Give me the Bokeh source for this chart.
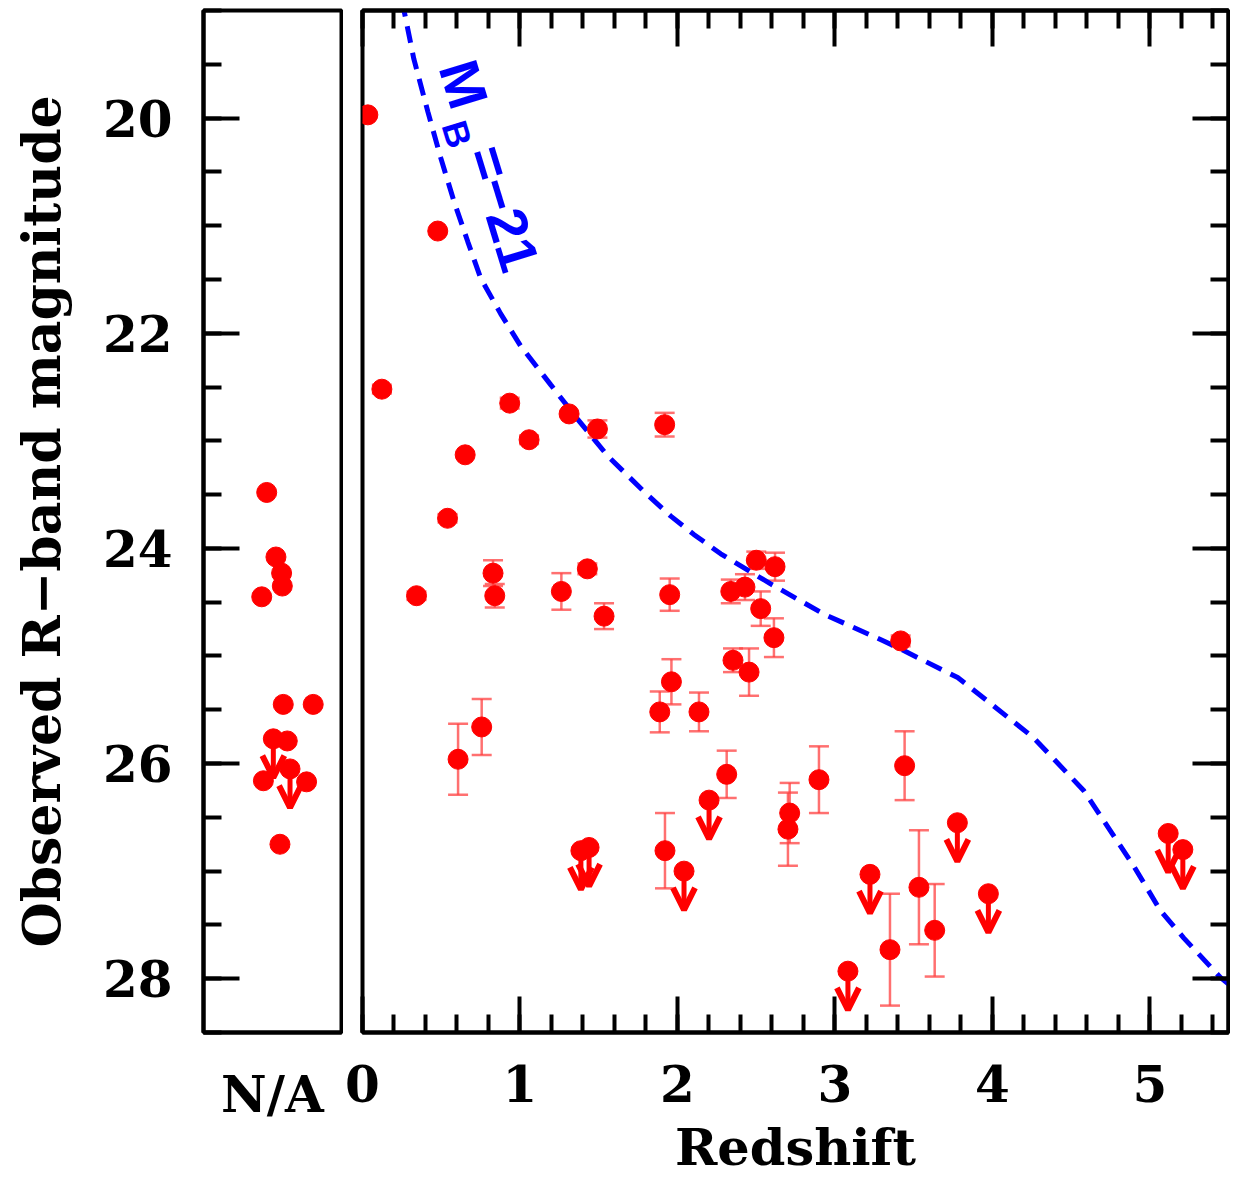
import numpy as np
from bokeh.plotting import figure
from bokeh.layouts import row
from bokeh.models import (Range1d, FixedTicker, LinearAxis, Whisker, TeeHead, Arrow,
                          OpenHead, ColumnDataSource, Label, CustomJSTickFormatter)
from bokeh.embed import file_html
from bokeh.resources import INLINE

# ---------------- data ----------------
# detections with redshift: redshift, R magnitude, 1-sigma error
det_z = [0.034, 0.478, 0.123, 0.935, 1.312, 1.492, 1.919, 1.058, 0.652, 0.540,
         0.343, 0.829, 0.840, 1.263, 1.428, 1.534, 1.951, 2.339, 2.429, 2.501,
         2.620, 2.529, 2.613, 2.353, 2.455, 3.418, 1.962, 1.888, 2.137, 2.313,
         2.713, 2.702, 2.899, 1.921, 3.350, 3.443, 3.534, 3.634, 0.607, 0.757]
det_mag = [19.97, 21.05, 22.52, 22.65, 22.75, 22.89, 22.85, 22.99, 23.13, 23.72,
           24.44, 24.23, 24.44, 24.40, 24.19, 24.63, 24.43, 24.40, 24.36, 24.11,
           24.17, 24.56, 24.83, 25.04, 25.15, 24.86, 25.24, 25.52, 25.52, 26.10,
           26.46, 26.61, 26.15, 26.81, 27.73, 26.02, 27.15, 27.55, 25.96, 25.66]
det_err = [0.0, 0.0, 0.04, 0.05, 0.0, 0.08, 0.11, 0.04, 0.0, 0.04,
           0.04, 0.12, 0.11, 0.17, 0.05, 0.12, 0.15, 0.11, 0.12, 0.08,
           0.13, 0.16, 0.18, 0.11, 0.22, 0.05, 0.21, 0.19, 0.18, 0.22,
           0.28, 0.34, 0.31, 0.35, 0.52, 0.32, 0.53, 0.43, 0.33, 0.26]

# upper limits (fainter than) with redshift
lim_z = [2.201, 2.042, 3.223, 3.083, 3.778, 3.975, 5.117, 5.210, 1.387, 1.439]
lim_mag = [26.34, 27.00, 27.03, 27.93, 26.55, 27.21, 26.65, 26.80, 26.81, 26.78]

# objects without redshift (N/A panel): horizontal jitter position, magnitude, limit flag
na_pos = [0.458, 0.525, 0.566, 0.571, 0.422, 0.578, 0.795, 0.506, 0.607, 0.434,
          0.627, 0.747, 0.554]
na_mag = [23.48, 24.08, 24.23, 24.35, 24.45, 25.45, 25.45, 25.77, 25.79, 26.16,
          26.05, 26.17, 26.75]
na_limit = [False, False, False, False, False, False, False, True, False, False,
            True, False, False]

# M_B = -21 track
curve_z = [0.25, 0.326, 0.415, 0.497, 0.580, 0.669, 0.751, 0.878, 1.005, 1.196,
           1.367, 1.557, 1.786, 1.958, 2.104, 2.275, 2.592, 2.929, 3.310, 3.437,
           3.780, 3.970, 4.262, 4.580, 4.897, 5.069, 5.215, 5.450, 5.5]
curve_mag = [18.90, 19.45, 19.94, 20.37, 20.77, 21.15, 21.49, 21.82, 22.12, 22.48,
             22.80, 23.14, 23.47, 23.70, 23.87, 24.05, 24.33, 24.61, 24.86, 24.95,
             25.20, 25.42, 25.76, 26.25, 26.95, 27.37, 27.62, 27.99, 28.05]

y_ticks = [20, 22, 24, 26, 28]
z_ticks = [0, 1, 2, 3, 4, 5]

# ---------------- style ----------------
FONT = "DejaVu Serif"
RED = "#ff0000"
BLUE = "#0000ff"
ARROW_LEN = 0.36


def style_axis(ax, tick_len=36, label_size="50px", show_labels=True):
    ax.axis_line_color = "black"
    ax.axis_line_width = 4
    ax.major_tick_in = tick_len
    ax.major_tick_out = 0
    ax.minor_tick_in = tick_len // 2
    ax.minor_tick_out = 0
    ax.major_tick_line_width = 4
    ax.minor_tick_line_width = 4
    ax.major_tick_line_color = "black"
    ax.minor_tick_line_color = "black"
    ax.major_label_text_font = FONT
    ax.major_label_text_font_style = "bold"
    ax.major_label_text_font_size = label_size
    ax.major_label_text_color = "black" if show_labels else None
    ax.axis_label_text_font = FONT
    ax.axis_label_text_font_style = "bold"
    ax.axis_label_text_font_size = "52px"
    ax.axis_label_text_color = "black"


def style_fig(p):
    p.grid.visible = False
    p.outline_line_color = "black"
    p.outline_line_width = 4
    p.outline_line_alpha = 1.0
    p.background_fill_color = "white"
    p.border_fill_color = "white"


mag_minor = list(np.arange(19.0, 28.51, 0.5))
z_minor = list(np.arange(0.0, 5.51, 0.2))

TOP, BOTTOM, FH = 10, 145, 1022

# ---------------- left (N/A) panel ----------------
pl = figure(frame_width=138, frame_height=FH,
            x_range=Range1d(0, 1), y_range=Range1d(28.5, 19.0),
            output_backend="svg", toolbar_location=None,
            min_border_left=203, min_border_right=2,
            min_border_top=TOP, min_border_bottom=BOTTOM)
style_fig(pl)

ya = pl.yaxis[0]
ya.ticker = FixedTicker(ticks=y_ticks, minor_ticks=mag_minor)
style_axis(ya, tick_len=36)
ya.major_label_standoff = 31
ya.axis_label = "Observed R\u2212band magnitude"
ya.axis_label_standoff = 28

xa = pl.xaxis[0]
xa.ticker = FixedTicker(ticks=[0.5], minor_ticks=[])
xa.formatter = CustomJSTickFormatter(code="return 'N/A';")
style_axis(xa, tick_len=0)
xa.major_tick_line_color = None
xa.minor_tick_line_color = None
xa.major_label_standoff = 32

na_det = ColumnDataSource(dict(
    x=[x for x, l in zip(na_pos, na_limit) if not l],
    y=[m for m, l in zip(na_mag, na_limit) if not l]))
na_lim = ColumnDataSource(dict(
    x=[x for x, l in zip(na_pos, na_limit) if l],
    y=[m for m, l in zip(na_mag, na_limit) if l],
    y2=[m + ARROW_LEN for m, l in zip(na_mag, na_limit) if l]))

HEAD = dict(size=22, line_width=6, line_color=RED)
pl.add_layout(Arrow(end=OpenHead(**HEAD),
                    x_start="x", y_start="y", x_end="x", y_end="y2",
                    source=na_lim, line_color=RED, line_width=5))
pl.scatter("x", "y", source=na_lim, size=20, color=RED)
pl.scatter("x", "y", source=na_det, size=20, color=RED)

# ---------------- right (redshift) panel ----------------
pr = figure(frame_width=866, frame_height=FH,
            x_range=Range1d(0, 5.5), y_range=Range1d(28.5, 19.0),
            output_backend="svg", toolbar_location=None,
            y_axis_location="right",
            min_border_left=19, min_border_right=2,
            min_border_top=TOP, min_border_bottom=BOTTOM)
style_fig(pr)

ra = pr.yaxis[0]
ra.ticker = FixedTicker(ticks=y_ticks, minor_ticks=mag_minor)
style_axis(ra, tick_len=36, label_size="0px", show_labels=False)
ra.major_label_standoff = 0

ba = pr.xaxis[0]
ba.ticker = FixedTicker(ticks=z_ticks, minor_ticks=z_minor)
style_axis(ba, tick_len=36)
ba.major_label_standoff = 32
ba.axis_label = "Redshift"
ba.axis_label_standoff = 12
ba.axis_label_text_font_size = "51px"

ta = LinearAxis(ticker=FixedTicker(ticks=z_ticks, minor_ticks=z_minor))
style_axis(ta, tick_len=36, label_size="0px", show_labels=False)
ta.major_label_standoff = 0
pr.add_layout(ta, "above")

# M_B = -21 curve
pr.line(curve_z, curve_mag, line_color=BLUE, line_width=5, line_dash="17 10")

# error bars
err_src = ColumnDataSource(dict(
    x=[z for z, e in zip(det_z, det_err) if e > 0],
    lo=[m - e for m, e in zip(det_mag, det_err) if e > 0],
    hi=[m + e for m, e in zip(det_mag, det_err) if e > 0]))
ERR_COLOR = "#ff4040"
pr.add_layout(Whisker(base="x", lower="lo", upper="hi", source=err_src,
                      line_color=ERR_COLOR, line_alpha=0.75, line_width=2.5,
                      lower_head=TeeHead(size=20, line_color=ERR_COLOR, line_alpha=0.75, line_width=2.5),
                      upper_head=TeeHead(size=20, line_color=ERR_COLOR, line_alpha=0.75, line_width=2.5)))

pr.scatter(det_z, det_mag, size=20, color=RED)

lim_src = ColumnDataSource(dict(x=lim_z, y=lim_mag, y2=[m + ARROW_LEN for m in lim_mag]))
pr.add_layout(Arrow(end=OpenHead(**HEAD),
                    x_start="x", y_start="y", x_end="x", y_end="y2",
                    source=lim_src, line_color=RED, line_width=5))
pr.scatter("x", "y", source=lim_src, size=20, color=RED)

# curve label  M_B = -21
ANG = -1.274
LBL_FONT = "Liberation Sans"
pr.add_layout(Label(x=0.643, y=19.687, text="M", angle=ANG, text_align="center",
                    text_baseline="middle", text_color=BLUE, text_font=LBL_FONT,
                    text_font_style="bold", text_font_size="56px"))
pr.add_layout(Label(x=0.600, y=20.151, text="B", angle=ANG, text_align="center",
                    text_baseline="middle", text_color=BLUE, text_font=LBL_FONT,
                    text_font_style="bold", text_font_size="36px"))
pr.add_layout(Label(x=0.895, y=20.840, text="=\u221221", angle=ANG, text_align="center",
                    text_baseline="middle", text_color=BLUE, text_font=LBL_FONT,
                    text_font_style="bold", text_font_size="56px"))

layout = row(pl, pr)
open("out.html", "w").write(file_html(layout, INLINE))
